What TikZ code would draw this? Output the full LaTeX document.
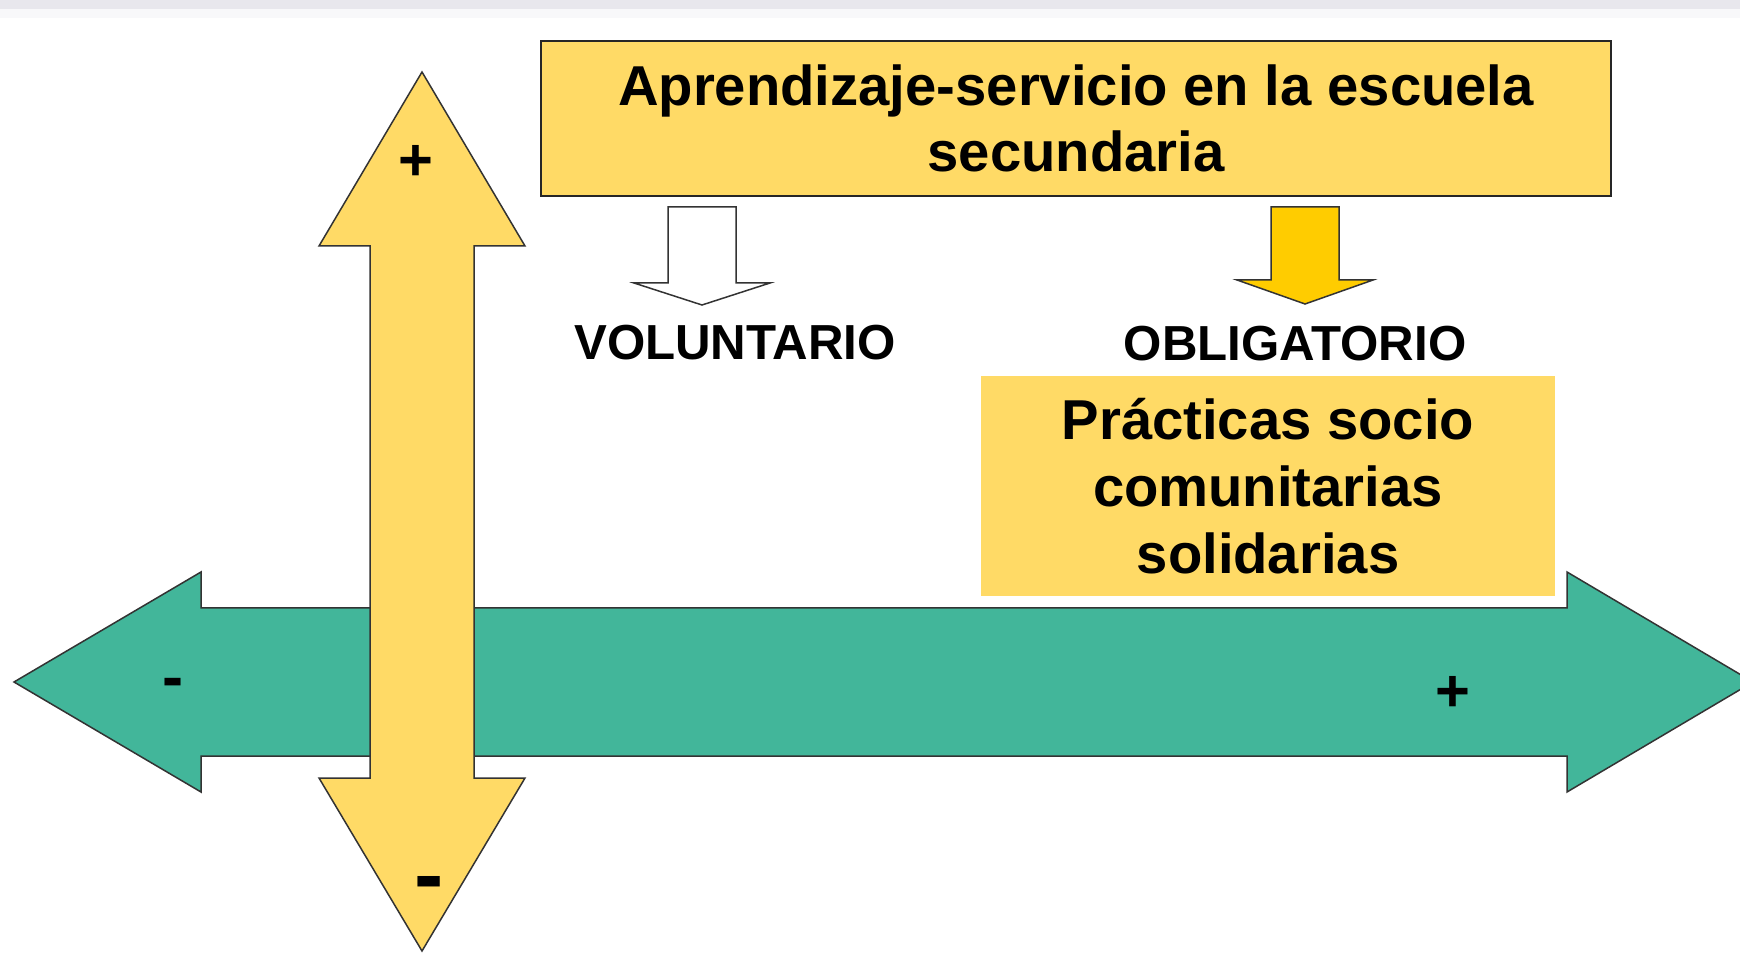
\documentclass[tikz,border=0pt]{standalone}
\usepackage{fontspec}
\setmainfont{Liberation Sans}
\usetikzlibrary{positioning}
\definecolor{softyellow}{HTML}{FFDA66}
\definecolor{goldyellow}{HTML}{FFCC00}
\definecolor{seagreen}{HTML}{42B69A}
\definecolor{topband}{HTML}{E8E7ED}
\tikzset{
blockarrow/.style={ % outline of the big and small block arrows
draw=black!80,
line width=0.15mm,
line join=miter},
yellowbox/.style={ % boxes with the long texts
fill=softyellow,
align=center,
inner sep=0pt,
font=\bfseries\fontsize{16}{19}\selectfont},
axislabel/.style={font=\bfseries\fontsize{14}{17}\selectfont, inner sep=0pt},
sign/.style={font=\bfseries, anchor=base, inner sep=0pt}}

\begin{document}
\begin{tikzpicture}[x=0.1mm, y=-0.1mm]
\useasboundingbox (0,0) rectangle (1740,976);
\clip (0,0) rectangle (1740,976);
\fill[white] (0,0) rectangle (1740,976);
\fill[topband] (0,0) rectangle (1740,9);
\fill[topband!30] (0,9) rectangle (1740,18);

% horizontal axis
\draw[blockarrow, fill=seagreen] (14,682) -- (201,572) -- (201,608) -- (1567,608)
  -- (1567,572) -- (1753,682) -- (1567,792) -- (1567,756) -- (201,756) -- (201,792) -- cycle;
% vertical axis
\draw[blockarrow, fill=softyellow] (422,72) -- (525,246) -- (474,246) -- (474,778)
  -- (525,778) -- (422,951) -- (319,778) -- (370,778) -- (370,246) -- (319,246) -- cycle;

\node[yellowbox, draw=black!85, line width=0.15mm, minimum width=107mm, minimum height=15.5mm]
  (title) at (1076,118.5) {Aprendizaje-servicio en la escuela\\ secundaria};

% small arrows under the title
\draw[blockarrow, fill=white] (668,207) -- (736,207) -- (736,283) -- (770,283)
  -- (702,305) -- (634,283) -- (668,283) -- cycle;
\draw[blockarrow, fill=goldyellow] (1271,207) -- (1339,207) -- (1339,280) -- (1373,280)
  -- (1305,304) -- (1237,280) -- (1271,280) -- cycle;

\node[axislabel] (vol) at (735,342.5) {VOLUNTARIO};
\node[axislabel] (obl) at (1295,344) {OBLIGATORIO};

\node[yellowbox, minimum width=57.4mm, minimum height=22mm] (practicas) at (1268,486)
  {Prácticas socio\\ comunitarias\\ solidarias};

% signs on the axes
\node[sign, font=\bfseries\fontsize{17}{20}\selectfont] (vplus) at (416,181) {+};
\node[sign, font=\bfseries\fontsize{25}{30}\selectfont] (vminus) at (429,904) {-};
\node[sign, font=\bfseries\fontsize{18}{21}\selectfont] (hminus) at (173,698) {-};
\node[sign, font=\bfseries\fontsize{17}{20}\selectfont] (hplus) at (1453,711) {+};
\end{tikzpicture}
\end{document}
